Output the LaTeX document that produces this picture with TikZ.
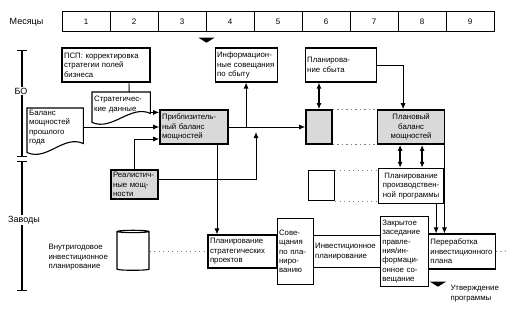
\documentclass[tikz,border=0pt]{standalone}
\usepackage{fontspec}
\setmainfont{Liberation Sans}
\usetikzlibrary{arrows.meta,positioning,shapes.geometric}

\begin{document}
\begin{tikzpicture}[
  x=1pt,y=1pt,
  font=\fontsize{7.8}{9.4}\selectfont,
  box/.style={draw,line width=1.1pt,align=left,inner sep=2pt},
  greybox/.style={box,fill=gray!30,line width=1.6pt},
  month/.style={draw,line width=1pt,minimum width=48pt,minimum height=20pt,inner sep=0pt,font=\fontsize{8}{9}\selectfont},
  doc/.style={align=left,inner sep=2pt,anchor=north west},
  docline/.style={line width=1.1pt},
  sidelabel/.style={font=\fontsize{9}{10}\selectfont,fill=white,inner sep=1pt},
  milestone/.style={isosceles triangle,isosceles triangle stretches,shape border rotate=270,fill,inner sep=0pt,minimum width=16pt,minimum height=5pt},
  arrow/.style={-{Latex[length=6pt,width=5pt]},line width=0.9pt},
  dblarrow/.style={{Latex[length=6pt,width=5pt]}-{Latex[length=6pt,width=5pt]},line width=1.3pt},
  dots/.style={line width=1pt,dash pattern=on 1.2pt off 3.3pt,gray},
  axisline/.style={{Bar[width=10pt]}-{Bar[width=10pt]},line width=1.1pt}
]
\useasboundingbox (0,0) rectangle (511,-310);
% months
\foreach \i in {1,...,9}
  \node[month] (m\i) at ({38+48*\i},-22) {\i};
\node[sidelabel,left=17pt of m1] (months) {Месяцы};
\node[milestone,below=5pt of m3.south east] (ms1) {};
% left scale
\draw[axisline] (22,-50) -- (22,-157);
\draw[axisline] (22,-161) -- (22,-291);
\node[sidelabel] (bo) at (21,-91) {БО};
\node[sidelabel] (plants) at (24,-220) {Заводы};
% upper part
\node[box,text width=84pt,minimum height=34pt] (psp) at (106,-65) {ПСП: корректировка\\стратегии полей\\бизнеса};
\node[box,text width=58pt,minimum height=34pt,right=64pt of psp] (info) {Информацион-\\ные совещания\\по сбыту};
\node[box,text width=67pt,minimum height=34pt,right=27pt of info] (sales) {Планирова-\\ние сбыта};
\node[doc,text width=54pt,minimum height=25pt] (stratdata) at (92,-92) {Стратегичес-\\кие данные};
\node[doc,text width=52pt] (lastyear) at (27,-108) {Баланс\\мощностей\\прошлого\\года};
\foreach \d in {stratdata,lastyear}
  \draw[docline] ([yshift=-5pt]\d.south west) .. controls +(20pt,-9pt) and +(-20pt,9pt) .. ([yshift=4pt]\d.south east)
    -- (\d.north east) -- (\d.north west) -- cycle;
\node[greybox,text width=64pt,minimum height=34pt] (approx) at (194,-127) {Приблизитель-\\ный баланс\\мощностей};
\node[greybox,minimum width=26pt,minimum height=34pt] (gray1) at (319,-127) {};
\node[greybox,text width=63pt,minimum height=34pt,align=center,right=44pt of gray1] (plan) {Плановый\\баланс\\мощностей};
\node[greybox,text width=43pt,minimum height=29pt] (realistic) at (134.5,-184.5) {Реалистич-\\ные мощ-\\ности};
\node[box,text width=61pt,minimum height=35pt,align=center,below=23pt of plan] (prodprog) {Планирование\\производствен-\\ной программы};
\node[box,minimum width=26pt,minimum height=30pt,left=43pt of prodprog] (wsq) {};
% lower part
\node[box,text width=65pt,minimum height=33pt] (stratproj) at (242.5,-251.5) {Планирование\\стратегических\\проектов};
\node[box,text width=32pt,minimum height=66pt,right=-1pt of stratproj] (meetings) {Сове-\\щания\\по пла-\\ниро-\\ванию};
\node[box,text width=63pt,minimum height=32pt,right=-1pt of meetings] (invest) {Инвестиционное\\планирование};
\node[box,text width=44pt,minimum height=70pt,right=-1pt of invest] (closed) {Закрытое\\заседание\\правле-\\ния/ин-\\формаци-\\онное со-\\вещание};
\node[box,text width=63pt,minimum height=35pt,right=-1pt of closed] (rework) {Переработка\\инвестиционного\\плана};
\node[cylinder,shape border rotate=90,draw,line width=1.1pt,aspect=0.35,minimum width=32pt,minimum height=40pt] (db) at (133,-251.5) {};
\node[align=left,left=5pt of db,yshift=-6pt] (dblabel) {Внутригодовое\\инвестиционное\\планирование};
\node[milestone] (ms2) at (438,-284) {};
\node[align=left,anchor=north west] (approval) at (447,-282) {Утверждение\\программы};
% connectors
\coordinate (merge) at (256,-132);
\coordinate (rwend) at (507,-251);
\draw[line width=0.9pt] ([xshift=23pt]psp.south) -- ([xshift=8pt]stratdata.north);
\draw[arrow] ([yshift=5pt]stratdata.south east) -- ([yshift=5pt]stratdata.south east -| approx.west);
\draw[arrow] (lastyear.east |- approx.west) -- (approx.west);
\draw[arrow] (realistic.north) |- ([yshift=-12pt]approx.west);
\draw[arrow] ([yshift=5pt]realistic.east) -| (merge);
\draw[arrow] (approx.east) -- (approx.east -| gray1.west);
\draw[arrow] (approx.east -| info.south) -- (info.south);
\draw[arrow] ([xshift=23pt]approx.south) -- ([xshift=23pt]approx.south |- stratproj.north);
\draw[dblarrow] (gray1.north) -- (gray1.north |- sales.south);
\draw[arrow] (sales.east) -| ([xshift=-8pt]plan.north);
\draw[dots] (gray1.north east) -- (plan.north west);
\draw[dots] (gray1.south east) -- (plan.south west);
\draw[dblarrow] ([xshift=-11pt]plan.south) -- ([xshift=-11pt]plan.south |- prodprog.north);
\draw[dblarrow] ([xshift=11pt]plan.south) -- ([xshift=11pt]plan.south |- prodprog.north);
\draw[dots] (wsq.north east) -- (wsq.north east -| prodprog.west);
\draw[dots] (wsq.south east) -- (wsq.south east -| prodprog.west);
\draw[arrow] ([xshift=-1pt]plan.south east) -- ([xshift=-1pt]plan.south east |- rework.north);
\draw[arrow] ([xshift=25pt]prodprog.south) -- ([xshift=25pt]prodprog.south |- rework.north);
\draw[dots] (db.east) -- (stratproj.west);
\draw[dots] (rework.east) -- (rwend);
\end{tikzpicture}
\end{document}
